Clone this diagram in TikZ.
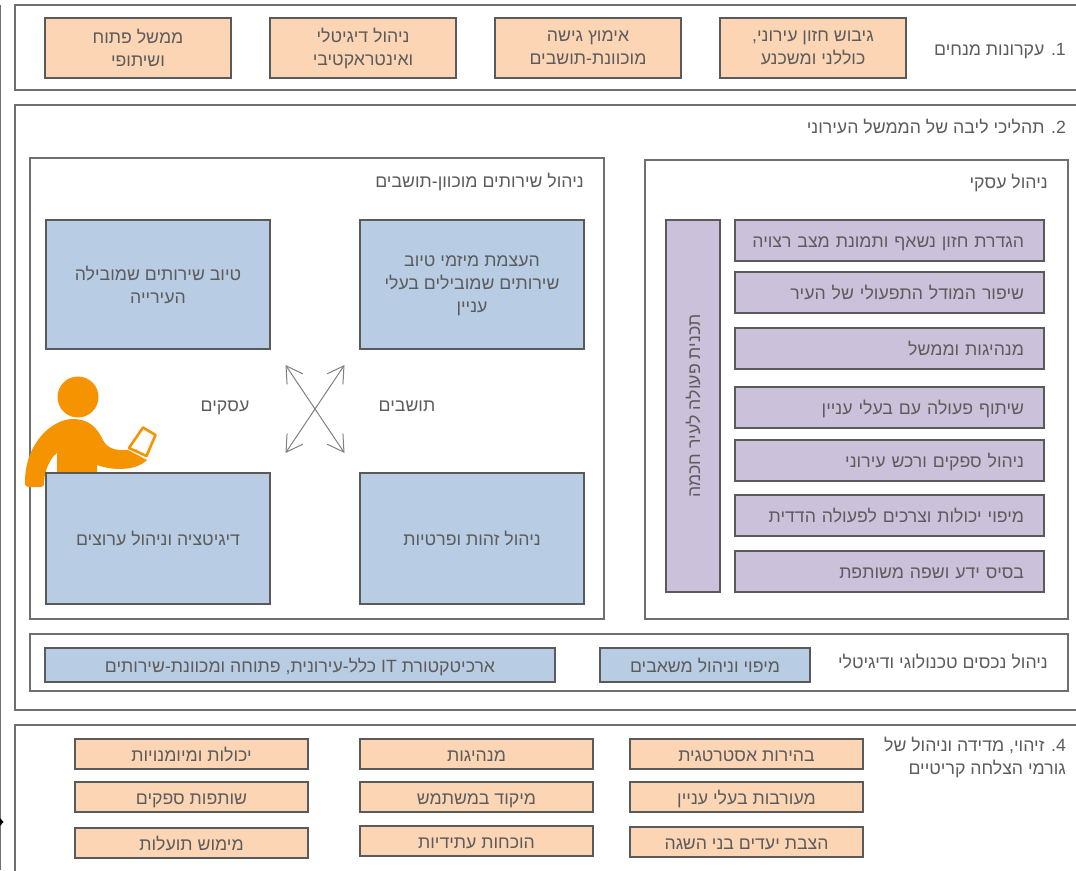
\documentclass[tikz,border=0pt]{standalone}
\usepackage{fontspec}
\setmainfont[Script=Hebrew]{Liberation Sans}
\usetikzlibrary{positioning, arrows.meta}
\TeXXeTstate=1
\newcommand{\rl}[1]{\beginR #1\endR}
\newcommand{\lr}[1]{\beginL #1\endL{}}
\newcommand{\bizline}[1]{\rl{#1}\hspace*{10pt}}
\definecolor{lineGray}{HTML}{6F6F6F}
\definecolor{boxGray}{HTML}{5A5A5A}
\definecolor{textGray}{HTML}{5C5C5C}
\definecolor{peach}{HTML}{FCD5B5}
\definecolor{steel}{HTML}{B8CCE4}
\definecolor{lilac}{HTML}{CCC1DA}
\definecolor{personOrange}{HTML}{F59400}
\tikzset{
	frame/.style={draw=lineGray, line width=1.2pt, outer sep=0pt, inner sep=0pt, anchor=north west},
	box/.style={draw=boxGray, line width=1.2pt, outer sep=0pt, inner sep=2pt, align=center, text=textGray, font=\fontsize{17.7}{23}\selectfont},
	peachbox/.style={box, fill=peach},
	steelbox/.style={box, fill=steel},
	lilacbox/.style={box, fill=lilac},
	caption/.style={text=textGray, inner sep=0pt, align=right, font=\fontsize{17.7}{23}\selectfont},
	oneline/.style={text height=16pt, text depth=2pt},
	xarrow/.style={{Straight Barb[length=16pt,width=19pt]}-{Straight Barb[length=16pt,width=19pt]}, line width=1pt, draw=gray},
}
\begin{document}
\begin{tikzpicture}[x=1pt, y=-1pt, node distance=39pt]
	\useasboundingbox (0,0) rectangle (1076,870);
	\draw[line width=1.2pt, lineGray] (0,5) -- (0,870);
	\fill[black] (0,818) -- (3.5,822) -- (0,826) -- cycle;
	% frames
	\node[frame, minimum width=1070pt, minimum height=85pt] (top) at (15,5) {};
	\node[frame, minimum width=1070pt, minimum height=605pt] (core) at (15,105) {};
	\node[frame, minimum width=1070pt, minimum height=160pt] (csf) at (15,725) {};
	\node[frame, minimum width=423pt, minimum height=459pt] (biz) at (645,160) {};
	\node[frame, minimum width=574pt, minimum height=461pt] (svc) at (30,158) {};
	\node[frame, minimum width=1038pt, minimum height=57pt] (tech) at (30,634) {};
	% headings
	\node[caption, oneline, anchor=east] (h1) at (1066,48) {\rl{\lr{1.} עקרונות מנחים}};
	\node[caption, oneline, anchor=east] (h2) at (1066,126) {\rl{\lr{2.} תהליכי ליבה של הממשל העירוני}};
	\node[caption, oneline, anchor=east] (h3) at (1048,181) {\rl{ניהול עסקי}};
	\node[caption, oneline, anchor=east] (h4) at (584,180) {\rl{ניהול שירותים מוכוון-תושבים}};
	\node[caption, oneline, anchor=east] (h5) at (1048,661) {\rl{ניהול נכסים טכנולוגי ודיגיטלי}};
	\node[caption, anchor=north east] (h6) at (1066,737) {\rl{\lr{4.} זיהוי, מדידה וניהול של}\\\rl{גורמי הצלחה קריטיים}};
	% principles
	\tikzset{principle/.style={peachbox, minimum width=186pt, minimum height=60pt}}
	\node[principle, anchor=north west] (p1) at (45,18) {\rl{ממשל פתוח}\\\rl{ושיתופי}};
	\node[principle, right=of p1] (p2) {\rl{ניהול דיגיטלי}\\\rl{ואינטראקטיבי}};
	\node[principle, right=of p2] (p3) {\rl{אימוץ גישה}\\\rl{מוכוונת-תושבים}};
	\node[principle, right=of p3] (p4) {\rl{גיבוש חזון עירוני,}\\\rl{כוללני ומשכנע}};
	% person
	\fill[personOrange] (78,397) circle (20.5);
	\fill[personOrange] (72,419) .. controls (50,420) and (25,445) .. (25,482)
		.. controls (25,486) and (26,487) .. (29,487) -- (41,487)
		.. controls (44,487) and (44,485) .. (44,481)
		.. controls (45,470) and (50,458) .. (57,453) -- (57,480) -- (97,480) -- (97,465)
		.. controls (110,470) and (135,472) .. (147,460)
		-- (128,450) .. controls (115,451) and (107,448) .. (103,440)
		.. controls (97,428) and (90,419) .. (72,419) -- cycle;
	\draw[personOrange, line width=2.6pt, line join=round, fill=white] (143,427.5) -- (155.5,435) -- (146.5,456) -- (129,448) -- cycle;
	\fill[personOrange] (136,450) circle (1);
	% citizen services
	\tikzset{service/.style={steelbox, minimum width=224pt, minimum height=129pt}}
	\node[service, anchor=north west] (s1) at (46,220) {\rl{טיוב שירותים שמובילה}\\\rl{העירייה}};
	\node[service, right=90pt of s1, text depth=0pt] (s2) {\rl{העצמת מיזמי טיוב}\\\rl{שירותים שמובילים בעלי}\\\rl{עניין}};
	\node[service, oneline, minimum height=131pt, anchor=north west] (s3) at (46,473) {\rl{דיגיטציה וניהול ערוצים}};
	\node[service, oneline, minimum height=131pt, right=90pt of s3] (s4) {\rl{ניהול זהות ופרטיות}};
	\node[caption, oneline] (biz2) at (225,404) {\rl{עסקים}};
	\node[caption, oneline] (cit) at (407,404) {\rl{תושבים}};
	\coordinate (a1) at (285.5,365);
	\coordinate (a2) at (344.5,453);
	\coordinate (a3) at (344.5,365);
	\coordinate (a4) at (285.5,453);
	\draw[xarrow] (a1) -- (a2);
	\draw[xarrow] (a3) -- (a4);
	% business management
	\tikzset{bizitem/.style={lilacbox, oneline, minimum width=309pt, minimum height=41pt, text width=289pt, align=right}}
	\node[lilacbox, minimum width=54pt, minimum height=372pt, anchor=north west] (plan) at (666,220) {};
	\node[caption, oneline, rotate=90] (plantxt) at (plan.center) {\rl{תכנית פעולה לעיר חכמה}};
	\node[bizitem, anchor=north west] (b1) at (735,220) {\bizline{הגדרת חזון נשאף ותמונת מצב רצויה}};
	\node[bizitem, below=11pt of b1] (b2) {\bizline{שיפור המודל התפעולי של העיר}};
	\node[bizitem, below=15pt of b2] (b3) {\bizline{מנהיגות וממשל}};
	\node[bizitem, below=18pt of b3] (b4) {\bizline{שיתוף פעולה עם בעלי עניין}};
	\node[bizitem, below=12pt of b4] (b5) {\bizline{ניהול ספקים ורכש עירוני}};
	\node[bizitem, below=14pt of b5] (b6) {\bizline{מיפוי יכולות וצרכים לפעולה הדדית}};
	\node[bizitem, below=15pt of b6] (b7) {\bizline{בסיס ידע ושפה משותפת}};
	% technology
	\node[steelbox, oneline, minimum width=510pt, minimum height=34pt, anchor=north west] (t1) at (45,648) {\rl{ארכיטקטורת \lr{IT} כלל-עירונית, פתוחה ומכוונת-שירותים}};
	\node[steelbox, oneline, minimum width=210pt, minimum height=34pt, right=45pt of t1] (t2) {\rl{מיפוי וניהול משאבים}};
	% success factors
	\tikzset{factor/.style={peachbox, oneline, minimum width=233pt, minimum height=30pt}}
	\node[factor, anchor=north west] (f1) at (75,739) {\rl{יכולות ומיומנויות}};
	\node[factor, below=13pt of f1] (f2) {\rl{שותפות ספקים}};
	\node[factor, below=16pt of f2] (f3) {\rl{מימוש תועלות}};
	\node[factor, right=52pt of f1] (f4) {\rl{מנהיגות}};
	\node[factor, below=13pt of f4] (f5) {\rl{מיקוד במשתמש}};
	\node[factor, below=14pt of f5] (f6) {\rl{הוכחות עתידיות}};
	\node[factor, right=37pt of f4] (f7) {\rl{בהירות אסטרטגית}};
	\node[factor, below=13pt of f7] (f8) {\rl{מעורבות בעלי עניין}};
	\node[factor, below=15pt of f8] (f9) {\rl{הצבת יעדים בני השגה}};
\end{tikzpicture}
\end{document}
